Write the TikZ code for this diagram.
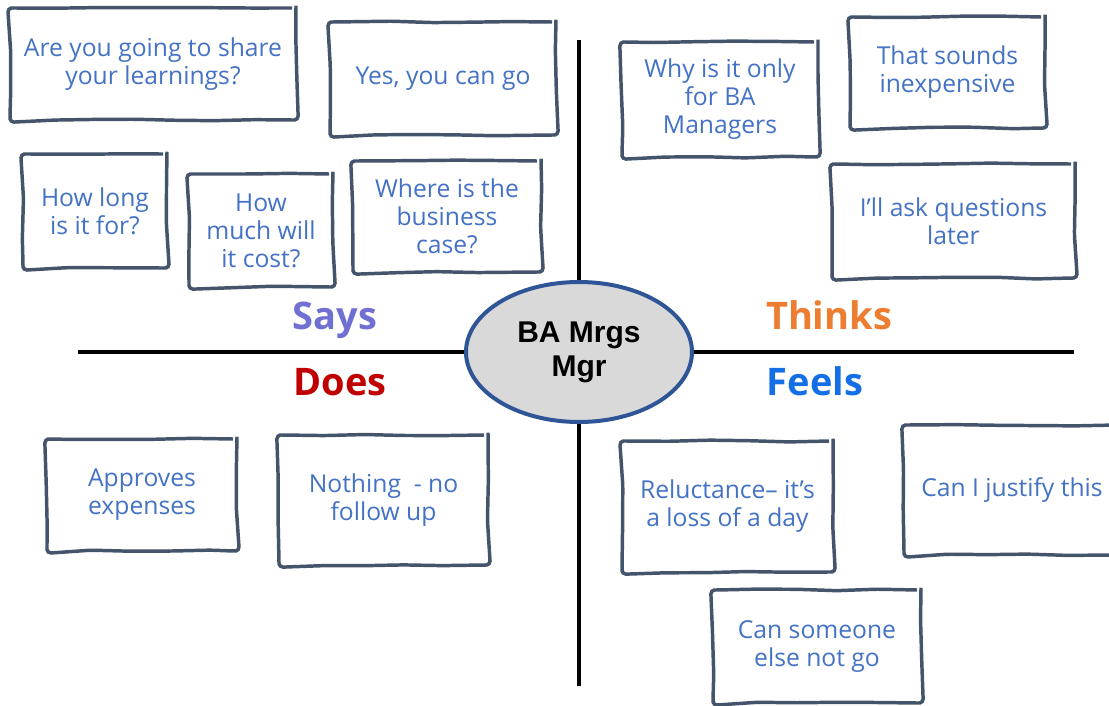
\documentclass[tikz,border=0pt]{standalone}
\usepackage{fontspec}
\setmainfont{Open Sans}
\newfontfamily\hubfont{Liberation Sans}
\usetikzlibrary{shapes.geometric,decorations.pathmorphing}

\definecolor{cardedge}{RGB}{68,84,106}
\definecolor{cardink}{RGB}{68,114,196}
\definecolor{saysink}{RGB}{112,112,210}
\definecolor{thinksink}{RGB}{237,125,49}
\definecolor{doesink}{RGB}{192,0,0}
\definecolor{feelsink}{RGB}{20,110,230}
\definecolor{hubfill}{RGB}{217,217,217}
\definecolor{hubedge}{RGB}{47,85,151}

\tikzset{every picture/.style={line width=0.75pt}}
\tikzset{
  card/.style={draw=cardedge, line width=2.6pt, fill=white, align=center,
    text=cardink, font=\fontsize{18.5}{21}\selectfont, inner sep=2pt,
    decorate, decoration={random steps, segment length=30pt, amplitude=0.7pt},
    rounded corners=3pt},
  quadrant/.style={anchor=base, font=\bfseries\fontsize{28.5}{32}\selectfont},
  axis/.style={line width=2.4pt, black}
}

\begin{document}
\begin{tikzpicture}[x=0.75pt,y=0.75pt,yscale=-1,xscale=1]
\pgfmathsetseed{11}
\useasboundingbox (0,0) rectangle (1109,706);

%Straight Lines: the two axes
\coordinate (axtop) at (579,40);
\coordinate (axbottom) at (579,686);
\coordinate (axleft) at (78,352);
\coordinate (axright) at (1074,352);
\draw [axis] (axtop) -- (axbottom) ;
\draw [axis] (axleft) -- (axright) ;

%Shape: Ellipse
\node [ellipse, draw=hubedge, line width=3pt, fill=hubfill, minimum width=169.5pt, minimum height=105pt,
  align=center, font=\hubfont\bfseries\fontsize{22.5}{25.5}\selectfont] (hub) at (579,352) {BA Mrgs\\Mgr};

% Text Node: quadrant labels
\node [quadrant, text=saysink] (says) at (335,329) {Says};
\node [quadrant, text=thinksink] (thinks) at (829,329) {Thinks};
\node [quadrant, text=doesink] (does) at (340,395) {Does};
\node [quadrant, text=feelsink] (feels) at (815,395) {Feels};

%Shape: Rectangle -- Says
\node [card, minimum width=214.5pt, minimum height=84pt] (share) at (153,64) {Are you going to share\\your learnings?};
\node [card, minimum width=169.5pt, minimum height=84.75pt] (cango) at (443,78.5) {Yes, you can go};
\node [card, minimum width=108pt, minimum height=85.5pt] (howlong) at (95,211) {How long\\is it for?};
\node [card, minimum width=108pt, minimum height=84.75pt] (howmuch) at (261,230.5) {How\\much will\\it cost?};
\node [card, minimum width=141pt, minimum height=83.25pt] (bizcase) at (447,216.5) {Where is the\\business\\case?};

%Shape: Rectangle -- Thinks
\node [card, minimum width=147pt, minimum height=86.25pt] (onlyba) at (720,99.5) {Why is it only\\for BA\\Managers};
\node [card, minimum width=146.25pt, minimum height=83.25pt] (cheap) at (947.5,72.5) {That sounds\\inexpensive};
\node [card, minimum width=182.25pt, minimum height=85.5pt] (asklater) at (953.5,221) {I’ll ask questions\\later};

%Shape: Rectangle -- Does
\node [card, minimum width=142.5pt, minimum height=84pt] (approves) at (142,495) {Approves\\expenses};
\node [card, minimum width=156.75pt, minimum height=97.5pt] (nofollow) at (383.5,500) {Nothing~ - no\\follow up};

%Shape: Rectangle -- Feels
\node [card, minimum width=158.25pt, minimum height=98.25pt] (reluct) at (727.5,506.5) {Reluctance– it’s\\a loss of a day};
\node [card, minimum width=162pt, minimum height=97.5pt] (justify) at (1012,490) {Can I justify this};
\node [card, minimum width=156pt, minimum height=84.75pt] (someone) at (817,646.5) {Can someone\\else not go};

\end{tikzpicture}
\end{document}
